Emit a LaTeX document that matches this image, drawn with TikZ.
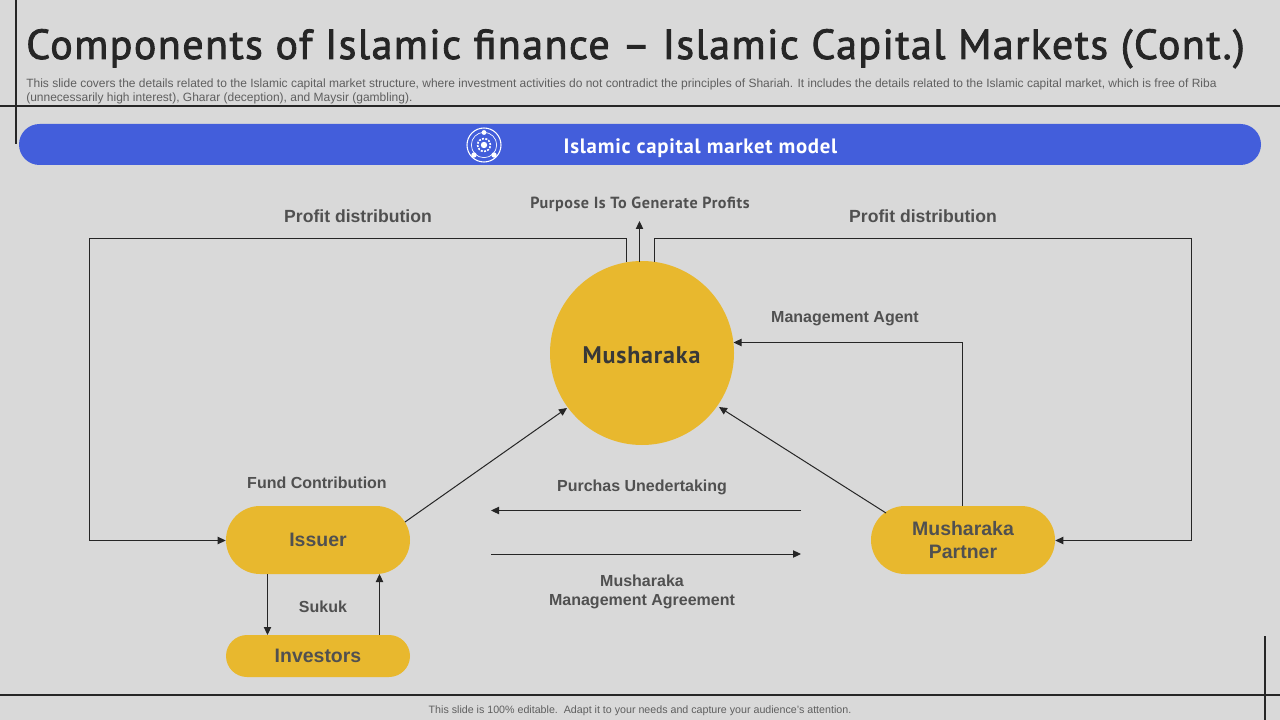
\documentclass[tikz,border=0pt]{standalone}
\usepackage{fontspec}
\setmainfont{Liberation Sans}
\newfontfamily\din[FakeBold=2,LetterSpace=3.45]{PT Sans}
\newfontfamily\dinb[LetterSpace=3.5]{PT Sans}
\definecolor{bgc}{HTML}{D9D9D9}
\definecolor{ylw}{HTML}{E8B82E}
\definecolor{blu}{HTML}{435EDB}
\definecolor{ink}{HTML}{262626}
\definecolor{lbl}{HTML}{505050}
\definecolor{sub}{HTML}{5F5F5F}
\usetikzlibrary{arrows.meta,shapes.misc}
\tikzset{
  x=0.75pt,y=-0.75pt,
  pill/.style={draw=none,fill=ylw,rounded rectangle,text=lbl,font=\fontsize{14.6}{17}\selectfont\bfseries,align=center,inner sep=0pt},
  frameline/.style={draw=ink,line width=1.1pt},
  conn/.style={draw=ink,line width=0.75pt},
  arr/.style={conn,-{Triangle[length=6pt,width=5.5pt]}},
  lab/.style={text=lbl,font=\fontsize{12}{14.2}\selectfont\bfseries,align=center,inner sep=0pt},
  dinlab/.style={text=lbl,font=\dinb\fontsize{12.1}{14}\selectfont\bfseries,align=center,inner sep=0pt},
  iconl/.style={draw=white,line width=0.5pt}
}
\begin{document}
\begin{tikzpicture}
\useasboundingbox (0,0) rectangle (1280,720);
\fill[bgc] (0,0) rectangle (1280,720);
% frame
\coordinate (fa) at (16,0); \coordinate (fb) at (16,144);
\coordinate (fc) at (0,106); \coordinate (fd) at (1280,106);
\coordinate (fe) at (0,695); \coordinate (ff) at (1280,695);
\coordinate (fg) at (1265,636); \coordinate (fh) at (1265,720);
\draw[frameline] (fa)--(fb); \draw[frameline] (fc)--(fd);
\draw[frameline] (fe)--(ff); \draw[frameline] (fg)--(fh);
% title
\node[anchor=base west,inner sep=0pt,text=ink,font=\din\fontsize{31.5}{36}\selectfont] (title) at (26,59) {Components of Islamic finance – Islamic Capital Markets (Cont.)};
\node[anchor=north west,inner sep=0pt,text=sub,align=left,font=\fontsize{9}{10.2}\selectfont] (subtitle) at (26,78.5) {This slide covers the details related to the Islamic capital market structure, where investment activities do not contradict the principles of Shariah. It includes the details related to the Islamic capital market, which is free of Riba\\(unnecessarily high interest), Gharar (deception), and Maysir (gambling).};
% banner
\fill[blu,rounded corners=15.4pt] (19,124) rectangle (1261,165);
\node[text=white,inner sep=0pt,font=\dinb\fontsize{15.6}{17}\selectfont\bfseries] (banner) at (700.5,148.5) {Islamic capital market model};
% icon
\draw[iconl,line width=0.8pt] (484,145) circle[radius=12.75pt];
\draw[iconl] (484,145) circle[radius=9.5pt];
\draw[iconl,line width=1.2pt,dash pattern=on 1.5pt off 1pt] (484,145) circle[radius=4.8pt];
\fill[white] (484,145) circle[radius=2.4pt];
\fill[white] (484,132.5) circle[radius=1.8pt];
\fill[white] (474,155) circle[radius=2pt];
\fill[white] (494,155) circle[radius=2pt];
% nodes
\node[circle,fill=ylw,minimum size=138pt,inner sep=0pt] (mush) at (642,353) {};
\node[text=lbl!70!black,inner sep=0pt,font=\dinb\fontsize{18}{20}\selectfont\bfseries] (mushtext) at (641.5,355.5) {Musharaka};
\node[pill,minimum width=138pt,minimum height=51pt] (issuer) at (318,540) {Issuer};
\node[pill,minimum width=138pt,minimum height=51pt] (partner) at (963,540) {Musharaka\\Partner};
\node[pill,minimum width=138pt,minimum height=31.5pt] (inv) at (318,656) {\raisebox{-0.6pt}{Investors}};
% connector ends
\coordinate (ml) at (626.5,262); \coordinate (mm) at (639.5,262); \coordinate (mr) at (654.5,262);
\coordinate (up) at (639.5,221);
\coordinate (tl) at (89.5,238.5); \coordinate (bl) at (89.5,540.5);
\coordinate (tr) at (1191.5,238.5); \coordinate (br) at (1191.5,540.5);
\coordinate (pc) at (962.5,342.5);
\coordinate (pua) at (801,510.5); \coordinate (pub) at (491,510.5);
\coordinate (mga) at (491,554); \coordinate (mgb) at (801,554);
\draw[arr] (ml) -- (ml |- tl) -- (tl) -- (bl) -- (issuer.west |- bl);
\draw[arr] (mm) -- (up);
\draw[arr] (mr) -- (mr |- tr) -- (tr) -- (br) -- (partner.east |- br);
\draw[arr] (partner.north -| pc) -- (pc) -- (733.5,342.5);
\draw[arr] (886,513) -- (719,407);
\draw[arr] (405,522) -- (567,408);
\draw[arr] (pua) -- (pub);
\draw[arr] (mga) -- (mgb);
\draw[arr] (267.5,574) -- (267.5,635);
\draw[arr] (379.5,635) -- (379.5,574);
% labels
\node[lab,font=\fontsize{13.2}{15}\selectfont\bfseries] (l1) at (358,216) {Profit distribution};
\node[lab,font=\fontsize{13.2}{15}\selectfont\bfseries] (l2) at (923,216) {Profit distribution};
\node[dinlab] (l3) at (640,204) {Purpose Is To Generate Profits};
\node[lab] (l4) at (845,318.5) {Management Agent};
\node[lab] (l5) at (317,483) {Fund Contribution};
\node[lab] (l6) at (642,487.5) {Purchas Unedertaking};
\node[lab] (l7) at (642,592) {Musharaka\\Management Agreement};
\node[lab] (l8) at (323,607) {Sukuk};
\node[inner sep=0pt,text=sub,font=\fontsize{8}{10}\selectfont] (foot) at (640,710.5) {This slide is 100\% editable.\ \ Adapt it to your needs and capture your audience's attention.};
\end{tikzpicture}
\end{document}
